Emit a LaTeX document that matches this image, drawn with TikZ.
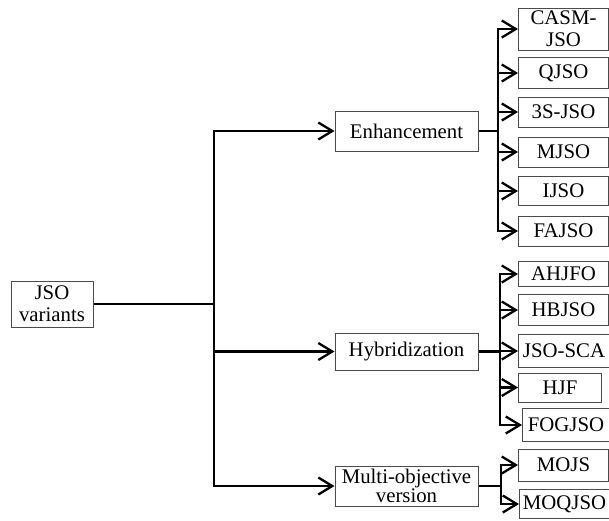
\documentclass[tikz,border=0pt]{standalone}
\usepackage{fontspec}
\setmainfont{Liberation Serif}
\usetikzlibrary{arrows.meta}
\definecolor{kutuGri}{HTML}{4A4A4A}
\definecolor{cizgiSiyah}{HTML}{000000}

\begin{document}
\begin{tikzpicture}[x=1pt,y=-1pt,
  box/.style={draw=kutuGri,line width=1pt,align=center,inner xsep=1pt,inner ysep=1pt,
    font=\fontsize{20.8}{22}\selectfont},
  link/.style={cizgiSiyah,line width=2.3pt},
  arr/.style={link,-{Straight Barb[length=14pt,width=17pt]}}]
\useasboundingbox (0,0) rectangle (609,520);
% kok
\node[box,minimum width=82pt,minimum height=46pt] (root) at (52,304) {JSO\\variants};
\coordinate (fork) at (214,304);
% ana dallar
\node[box,minimum width=143pt,minimum height=40pt] (enh) at (406.5,131) {Enhancement};
\node[box,minimum width=143pt,minimum height=37pt] (hyb) at (406.5,351.5) {Hybridization};
\node[box,minimum width=143pt,minimum height=40pt,font=\fontsize{20.8}{19}\selectfont]
  (multi) at (406.5,486) {Multi-objective\\version};
\draw[link,line width=2.6pt] (root.east) -- (fork);
\foreach \p in {enh,hyb,multi}
  \draw[arr] (fork) |- (\p.west);
% yapraklar
\foreach \nm/\txt/\xx/\yy/\ww/\hh in {
    cj/{CASM-\\JSO}/518/29/90/42, qj/QJSO/518/73/90/31, sj/3S-JSO/518/112/90/30,
    mj/MJSO/518/152/90/30, ij/IJSO/518/191/90/29, fa/FAJSO/518/231/90/30,
    ah/AHJFO/518/274/90/25, hb/HBJSO/518/310/90/31, js/JSO-SCA/518/351/91/33,
    hj/HJF/518/387.5/83/29, fo/FOGJSO/522/425/87/33,
    mo/MOJS/518/465/90/32, mq/MOQJSO/519/504/90/29}
  \node[box,anchor=west,minimum width=\ww pt,minimum height=\hh pt] (\nm) at (\xx,\yy) {\txt};
\coordinate (enhFork) at (498,131);
\coordinate (hybFork) at (500,351.5);
\coordinate (multiFork) at (501,486);
\draw[link] (enh.east) -- (enhFork);
\draw[link] (hyb.east) -- (hybFork);
\draw[link] (multi.east) -- (multiFork);
\foreach \nm in {cj,qj,sj,mj,ij,fa}
  \draw[arr] (enhFork) |- (\nm.west);
\foreach \nm in {ah,hb,js,hj,fo}
  \draw[arr] (hybFork) |- (\nm.west);
\foreach \nm in {mo,mq}
  \draw[arr] (multiFork) |- (\nm.west);
\end{tikzpicture}
\end{document}
